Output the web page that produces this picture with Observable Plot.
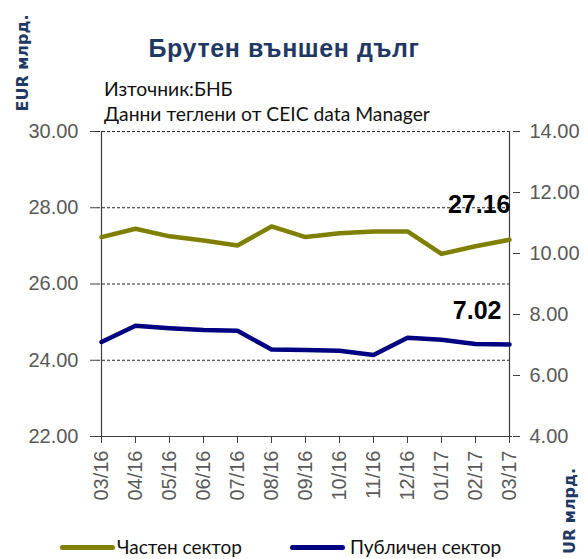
<!DOCTYPE html>
<html>
<head>
<meta charset="utf-8">
<script src="https://cdn.jsdelivr.net/npm/d3@7"></script>
<script src="https://cdn.jsdelivr.net/npm/@observablehq/plot@0.6"></script>
<style>
  html, body { margin: 0; padding: 0; background: #fff; }
  #wrap { position: relative; width: 587px; height: 559px; overflow: hidden; background: #fff; }
  #wrap svg { position: absolute; left: 0; top: 0; }
  .abs { position: absolute; white-space: nowrap; }
  .title { font-family: "Liberation Sans", Arial, sans-serif; font-weight: bold; font-size: 25px; letter-spacing: 0.6px; color: #1F3864; transform: translateX(-50%); }
  .src { font-family: Lato, "Open Sans", sans-serif; font-size: 19.3px; color: #111; }
  .unit { font-family: "DejaVu Sans", sans-serif; font-weight: bold; font-size: 16px; color: #1F3864; transform: translate(-50%, -50%) rotate(-90deg); }
  .leg { font-family: Lato, "Open Sans", sans-serif; font-size: 19px; color: #111; }
  .sw { position: absolute; height: 5px; border-radius: 3px; }
</style>
</head>
<body>
<div id="wrap">
  <div class="abs title" style="left:284px; top:34px;">Брутен външен дълг</div>
  <div class="abs src" style="left:104px; top:77px;">Източник:БНБ</div>
  <div class="abs src" style="left:104px; top:102px;">Данни теглени от CEIC data Manager</div>
  <div class="abs unit" style="left:22px; top:63px;">EUR млрд.</div>
  <div class="abs unit" style="left:569px; top:511px;">UR млрд.</div>
  <div class="sw" style="left:60px; width:55px; top:545px; background:#808000;"></div>
  <div class="abs leg" style="left:117px; top:535px;">Частен сектор</div>
  <div class="sw" style="left:290px; width:55px; top:545px; background:#000080;"></div>
  <div class="abs leg" style="left:350px; top:535px;">Публичен сектор</div>
</div>
<script>
const months = ["03/16","04/16","05/16","06/16","07/16","08/16","09/16","10/16","11/16","12/16","01/17","02/17","03/17"];
const privateSector = [27.23, 27.45, 27.25, 27.14, 27.01, 27.51, 27.23, 27.33, 27.38, 27.38, 26.79, 26.99, 27.16];
const publicSector = [7.10, 7.63, 7.55, 7.49, 7.47, 6.85, 6.84, 6.81, 6.67, 7.24, 7.17, 7.03, 7.02];
const leftTicks = [22, 24, 26, 28, 30];
const rightTicks = [4, 6, 8, 10, 12, 14];
const seriesNames = ["Частен сектор", "Публичен сектор"];

const leftDomain = [22, 30];
const rightDomain = [4, 14];
const toLeft = v => leftDomain[0] + (v - rightDomain[0]) * (leftDomain[1] - leftDomain[0]) / (rightDomain[1] - rightDomain[0]);
const fromLeft = v => rightDomain[0] + (v - leftDomain[0]) * (rightDomain[1] - rightDomain[0]) / (leftDomain[1] - leftDomain[0]);

const priv = months.map((m, i) => ({month: m, value: privateSector[i]}));
const pub = months.map((m, i) => ({month: m, value: publicSector[i], y: toLeft(publicSector[i])}));
const lastPriv = priv[priv.length - 1];
const lastPub = pub[pub.length - 1];

const chart = Plot.plot({
  width: 587,
  height: 559,
  marginTop: 131,
  marginBottom: 123,
  marginLeft: 97,
  marginRight: 75,
  style: {fontFamily: "'Liberation Sans', Arial, sans-serif", fontSize: "20px", color: "#595959", background: "transparent", overflow: "visible"},
  x: {type: "point", domain: months, padding: 0},
  y: {domain: leftDomain},
  marks: [
    Plot.ruleY(leftTicks.filter(d => d > leftDomain[0]), {stroke: "#000", strokeWidth: 1, strokeDasharray: "3,2", strokeOpacity: 0.85}),
    Plot.ruleY([leftDomain[0]], {stroke: "#404040", strokeWidth: 1.2}),
    Plot.ruleX([months[0], months[months.length - 1]], {y1: leftDomain[0], y2: leftDomain[1], stroke: "#404040", strokeWidth: 1.2}),
    Plot.axisY({anchor: "left", ticks: leftTicks, tickFormat: d => d.toFixed(2), tickSize: 7, tickPadding: 12, stroke: "#404040", fill: "#595959", label: null}),
    Plot.axisY({anchor: "right", ticks: rightTicks.map(toLeft), tickFormat: d => fromLeft(d).toFixed(2), tickSize: 7, tickPadding: 10, stroke: "#404040", fill: "#595959", label: null}),
    Plot.axisX({tickRotate: -90, tickSize: 7, tickPadding: 7, stroke: "#404040", fill: "#595959", label: null}),
    Plot.lineY(priv, {x: "month", y: "value", stroke: "#808000", strokeWidth: 4.5, title: () => seriesNames[0]}),
    Plot.lineY(pub, {x: "month", y: "y", stroke: "#000080", strokeWidth: 4.5, title: () => seriesNames[1]}),
    Plot.text([lastPriv], {x: "month", y: "value", text: d => d.value.toFixed(2), textAnchor: "end", dx: 1, dy: -35, fontWeight: "bold", fontSize: 25, fill: "#000"}),
    Plot.text([lastPub], {x: "month", y: "y", text: d => d.value.toFixed(2), textAnchor: "end", dx: -8, dy: -33, fontWeight: "bold", fontSize: 25, fill: "#000"})
  ]
});
document.getElementById("wrap").insertBefore(chart, document.getElementById("wrap").firstChild);
</script>
</body>
</html>
